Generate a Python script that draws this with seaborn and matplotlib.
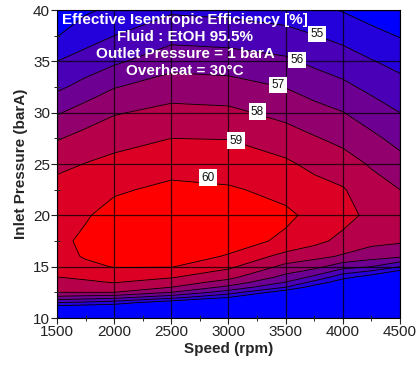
import numpy as np
import matplotlib
matplotlib.use("Agg")
import matplotlib.pyplot as plt
import seaborn as sns

# ---- data ----
speeds = [1500, 1750, 2000, 2500, 3000, 3500, 3750, 4000, 4250, 4500]
pressures = [10, 11, 11.5, 12, 12.5, 13, 13.5, 14, 15, 16, 17.5, 20,
             22.5, 25, 27.5, 30, 32.5, 35, 37.5, 40]

eff_1500 = [46, 53.3, 55.0, 56.7, 58.0, 58.33, 58.67, 59.0, 59.3, 59.6, 59.75, 59.65,
            59.4, 58.72, 57.92, 56.9, 55.8, 55.0, 53.96, 52.9]
eff_1750 = [46.5, 53.1, 54.8, 56.5, 58.0, 58.4, 58.85, 59.2, 59.75, 60.1, 60.2, 59.9,
            59.5, 59.03, 58.33, 57.46, 56.35, 55.4, 54.6, 53.85]
eff_2000 = [47, 53.0, 54.5, 56.3, 58.0, 58.55, 59.07, 59.43, 60.05, 60.35, 60.5, 60.4,
            59.85, 59.27, 58.64, 57.92, 56.95, 55.83, 55.0, 54.2]
eff_2500 = [47, 51.5, 53.3, 55.33, 57.0, 58.0, 58.56, 59.1, 60.05, 60.4, 60.7, 60.75,
            60.25, 59.58, 59.0, 58.29, 57.5, 56.6, 55.67, 54.85]
eff_3000 = [47, 51.0, 52.5, 54.0, 55.5, 56.75, 57.67, 58.3, 59.21, 59.93, 60.35, 60.5,
            60.1, 59.55, 58.97, 58.21, 57.4, 56.48, 55.57, 54.73]
eff_3500 = [46, 49.5, 51.0, 52.3, 53.3, 55.0, 56.0, 56.71, 57.73, 58.64, 59.85, 60.15,
            59.76, 59.17, 58.45, 57.71, 56.97, 56.17, 55.33, 54.5]
eff_3750 = [45.5, 48.8, 50.1, 51.4, 52.6, 53.5, 54.75, 55.8, 57.33, 58.29, 59.3, 59.8,
            59.37, 58.74, 58.08, 57.35, 56.58, 55.79, 55.03, 54.2]
eff_4000 = [45, 48.0, 49.2, 50.5, 51.7, 52.6, 53.4, 54.4, 56.4, 57.88, 58.7, 59.4,
            59.08, 58.42, 57.74, 57.03, 56.23, 55.47, 54.72, 53.94]
eff_4250 = [44.5, 47.0, 48.1, 49.2, 50.3, 51.3, 52.3, 53.5, 56.0, 57.45, 58.3, 58.7,
            58.4, 57.9, 57.22, 56.5, 55.75, 55.06, 54.3, 53.55]
eff_4500 = [44, 46.0, 47.0, 48.0, 49.0, 50.0, 51.0, 52.2, 55.0, 57.17, 58.15, 58.45,
            58.0, 57.34, 56.68, 56.0, 55.36, 54.68, 53.94, 53.2]

levels = [40, 54, 55, 56, 57, 58, 59, 60, 62]
label_levels = [55, 56, 57, 58, 59, 60]
label_pos = [(3771, 37.66), (3602, 35.13), (3436, 32.69), (3252, 30.09),
             (3066, 27.27), (2818, 23.67)]

title_lines = ["Effective Isentropic Efficiency [%]", "Fluid : EtOH 95.5%",
               "Outlet Pressure = 1 barA", "Overheat = 30°C"]

# ---- style ----
sns.set_style("ticks")
plt.rcParams["font.family"] = ["Liberation Sans", "DejaVu Sans"]

Z = np.column_stack([eff_1500, eff_1750, eff_2000, eff_2500, eff_3000, eff_3500,
                     eff_3750, eff_4000, eff_4250, eff_4500])
X, Y = np.meshgrid(speeds, pressures)

band_colors = sns.blend_palette(["#0000ff", "#ff0000"], n_colors=len(levels) - 1)

fig = plt.figure(figsize=(4.19, 3.65), dpi=100)
ax = fig.add_axes([57 / 419, 1 - 318 / 365, 343 / 419, 308 / 365])

ax.contourf(X, Y, Z, levels=levels, colors=band_colors)
ax.contour(X, Y, Z, levels=levels[1:-1], colors="black", linewidths=0.6)

for lev, (sx, py) in zip(label_levels, label_pos):
    ax.text(sx, py, f"{lev}", fontsize=8.5, ha="center", va="center", color="#111111",
            bbox=dict(facecolor="white", edgecolor="none", pad=1.6), zorder=5)

ys = [0.968, 0.912, 0.857, 0.802]
for t, yy in zip(title_lines, ys):
    ax.text(0.373, yy, t, transform=ax.transAxes, ha="center", va="center",
            color="white", fontsize=11, fontweight="bold", zorder=6)

ax.set_xlim(1500, 4500)
ax.set_ylim(10, 40)
ax.set_xticks(np.arange(1500, 4501, 500))
ax.set_yticks(np.arange(10, 41, 5))
ax.set_xticks(np.arange(1500, 4501, 250), minor=True)
ax.set_yticks(np.arange(10, 41, 2.5), minor=True)
ax.grid(True, which="major", color="black", linewidth=0.9, alpha=0.75)
ax.set_axisbelow(False)
ax.tick_params(which="major", direction="out", length=4, width=0.8, labelsize=11,
               colors="#222222", pad=1)
ax.tick_params(which="minor", direction="inout", length=4, width=0.7)
for sp in ax.spines.values():
    sp.set_visible(True)
    sp.set_linewidth(0.8)
    sp.set_color("black")

ax.set_xlabel("Speed (rpm)", fontsize=11, fontweight="bold", labelpad=2)
ax.set_ylabel("Inlet Pressure (barA)", fontsize=11, fontweight="bold", labelpad=4)

fig.savefig("out.png", dpi=100)
